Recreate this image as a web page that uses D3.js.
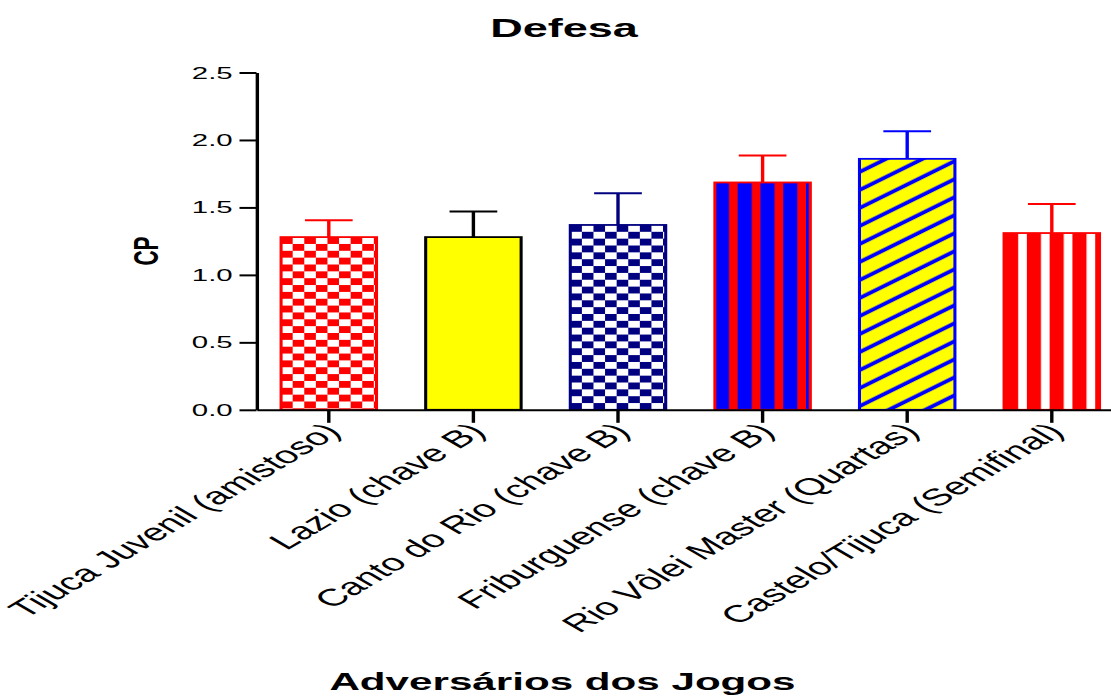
<!DOCTYPE html>
<html>
<head>
<meta charset="utf-8">
<script src="https://cdn.jsdelivr.net/npm/d3@7"></script>
<style>
  html, body { margin: 0; padding: 0; background: #ffffff; }
  svg { display: block; }
  text { font-family: "Liberation Sans", Arial, Helvetica, sans-serif; fill: #000; }
</style>
</head>
<body>
<script>
// Defesa — CP por adversário (média + barra de erro superior)
const categories = [
  "Tijuca Juvenil (amistoso)",
  "Lazio (chave B)",
  "Canto do Rio (chave B)",
  "Friburguense (chave B)",
  "Rio Vôlei Master (Quartas)",
  "Castelo/Tijuca (Semifinal)"
];
const means  = [1.28, 1.28, 1.37, 1.685, 1.86, 1.31];
const errors = [0.125, 0.19, 0.235, 0.2, 0.205, 0.215];
const yTicks = [0, 0.5, 1.0, 1.5, 2.0, 2.5];

const title  = "Defesa";
const yLabel = "CP";
const xLabel = "Adversários dos Jogos";

// Fill pattern for each bar: kind, colours, outline
const barStyles = [
  { kind: "checker", fg: "#ff0000", bg: "#ffffff", stroke: "#ff0000" },
  { kind: "solid",   fg: "#ffff00", bg: "#ffff00", stroke: "#000000" },
  { kind: "checker", fg: "#000080", bg: "#ffffff", stroke: "#000080" },
  { kind: "stripes", fg: "#0000ff", bg: "#ff0000", stroke: "#ff0000" },
  { kind: "diag",    fg: "#0000ff", bg: "#ffff00", stroke: "#0000ff" },
  { kind: "stripes", fg: "#ff0000", bg: "#ffffff", stroke: "#ff0000" }
];

// The plot is laid out in a narrow drawing space and widened to the page.
const W = 1111, H = 697, SX = 1.7;
const VW = W / SX;

const svg = d3.select("body").append("svg")
  .attr("width", W).attr("height", H)
  .attr("viewBox", `0 0 ${VW} ${H}`)
  .attr("preserveAspectRatio", "none");

const axisX0 = 256.5 / SX;
const step = 144.6 / SX;
const x = d3.scaleBand()
  .domain(categories)
  .range([axisX0, axisX0 + 6 * step])
  .paddingInner(0.34)
  .paddingOuter(0.17);

const y = d3.scaleLinear().domain([0, 2.5]).range([409.8, 72.5]);

const defs = svg.append("defs");

categories.forEach((c, i) => {
  const s = barStyles[i];
  const bx = x(c), by = y(means[i]);
  const id = "pat" + i;
  if (s.kind === "checker") {
    const cw = 6.82, ch = 6.85;
    const p = defs.append("pattern").attr("id", id)
      .attr("patternUnits", "userSpaceOnUse")
      .attr("x", bx).attr("y", by)
      .attr("width", 2 * cw).attr("height", 2 * ch);
    p.append("rect").attr("width", 2 * cw).attr("height", 2 * ch).attr("fill", s.bg);
    p.append("rect").attr("x", 0).attr("y", 0).attr("width", cw).attr("height", ch).attr("fill", s.fg);
    p.append("rect").attr("x", cw).attr("y", ch).attr("width", cw).attr("height", ch).attr("fill", s.fg);
  } else if (s.kind === "stripes") {
    const period = 13.4, band = 8.3;
    const p = defs.append("pattern").attr("id", id)
      .attr("patternUnits", "userSpaceOnUse")
      .attr("x", bx).attr("y", 0)
      .attr("width", period).attr("height", 10);
    p.append("rect").attr("width", period).attr("height", 10).attr("fill", s.bg);
    p.append("rect").attr("x", 0).attr("width", band).attr("height", 10).attr("fill", s.fg);
  } else if (s.kind === "diag") {
    const P = 13.8, lw = 3.3, c0 = 10.1;
    const p = defs.append("pattern").attr("id", id)
      .attr("patternUnits", "userSpaceOnUse")
      .attr("width", P).attr("height", P)
      .attr("patternTransform", `translate(${bx},${by}) rotate(-40)`);
    p.append("rect").attr("width", P).attr("height", P).attr("fill", s.bg);
    p.append("rect").attr("x", 0).attr("y", c0 - lw / 2).attr("width", P).attr("height", lw).attr("fill", s.fg);
  }
});

// Bars
svg.append("g").selectAll("rect")
  .data(categories)
  .join("rect")
  .attr("x", d => x(d))
  .attr("y", (d, i) => y(means[i]))
  .attr("width", x.bandwidth())
  .attr("height", (d, i) => y(0) - y(means[i]))
  .attr("fill", (d, i) => barStyles[i].kind === "solid" ? barStyles[i].fg : `url(#pat${i})`)
  .attr("stroke", (d, i) => barStyles[i].stroke)
  .attr("stroke-width", 1.8);

// Upper error bars
const capHalf = x.bandwidth() / 4;
const eb = svg.append("g").selectAll("g")
  .data(categories)
  .join("g")
  .attr("stroke", (d, i) => barStyles[i].stroke)
  .attr("stroke-width", 2);
eb.append("line")
  .attr("x1", d => x(d) + x.bandwidth() / 2)
  .attr("x2", d => x(d) + x.bandwidth() / 2)
  .attr("y1", (d, i) => y(means[i]))
  .attr("y2", (d, i) => y(means[i] + errors[i]));
eb.append("line")
  .attr("x1", d => x(d) + x.bandwidth() / 2 - capHalf)
  .attr("x2", d => x(d) + x.bandwidth() / 2 + capHalf)
  .attr("y1", (d, i) => y(means[i] + errors[i]))
  .attr("y2", (d, i) => y(means[i] + errors[i]));

// Y axis
const yAxis = svg.append("g")
  .attr("transform", `translate(${axisX0},0)`)
  .call(d3.axisLeft(y).tickValues(yTicks).tickFormat(d3.format(".1f"))
    .tickSize(10).tickSizeOuter(0).tickPadding(4));
yAxis.select(".domain").attr("stroke", "#000").attr("stroke-width", 2);
yAxis.selectAll(".tick line").attr("stroke", "#000").attr("stroke-width", 2);
yAxis.selectAll(".tick text")
  .attr("font-size", 17.3)
  .attr("font-family", "Liberation Sans, Arial, sans-serif")
  .attr("fill", "#000");

// X axis
const xAxis = svg.append("g")
  .attr("transform", `translate(0,${y(0)})`)
  .call(d3.axisBottom(x).tickSize(13).tickSizeOuter(0).tickFormat(""));
xAxis.select(".domain").attr("stroke", "#000").attr("stroke-width", 2);
xAxis.selectAll(".tick line").attr("stroke", "#000").attr("stroke-width", 2);

// Rotated category labels
svg.append("g").selectAll("text")
  .data(categories)
  .join("text")
  .attr("text-anchor", "end")
  .attr("font-size", 24)
  .attr("transform", d => `translate(${x(d) + x.bandwidth() / 2 + 8},433) rotate(-45)`)
  .text(d => d);

// Titles
svg.append("text")
  .attr("x", 564 / SX).attr("y", 37)
  .attr("text-anchor", "middle")
  .attr("font-size", 26.5).attr("font-weight", "bold")
  .text(title);

svg.append("text")
  .attr("transform", `translate(${158.4 / SX},251) rotate(-90)`)
  .attr("text-anchor", "middle")
  .attr("font-size", 21).attr("font-weight", "bold")
  .text(yLabel);

svg.append("text")
  .attr("x", 562.5 / SX).attr("y", 690.5)
  .attr("text-anchor", "middle")
  .attr("font-size", 24.8).attr("font-weight", "bold")
  .text(xLabel);
</script>
</body>
</html>
